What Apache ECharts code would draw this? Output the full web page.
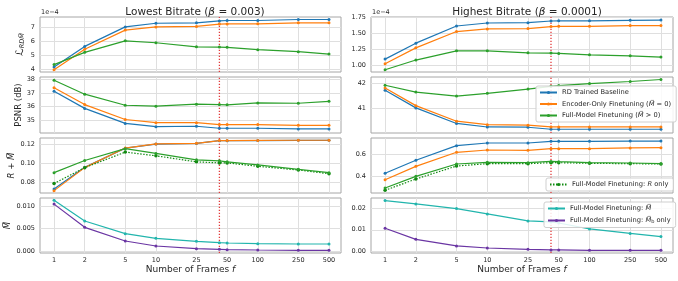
<!DOCTYPE html>
<html><head><meta charset="utf-8">
<script src="https://cdn.jsdelivr.net/npm/echarts@6/dist/echarts.min.js"></script>
<style>html,body{margin:0;padding:0;background:#fff}#c{width:678px;height:281px}</style>
</head><body><div id="c"></div>
<script>
// ---------- data ----------
const frames = [1, 2, 5, 10, 25, 42, 50, 100, 250, 500];
const frameTicks = [1, 2, 5, 10, 25, 50, 100, 250, 500];
const markerFrame = 42;

// Lowest bitrate (beta = 0.003)
const lowLossBaseline = [4.16, 5.64, 7.04, 7.30, 7.33, 7.47, 7.50, 7.50, 7.57, 7.57]; // x1e-4
const lowLossEncoder  = [3.97, 5.43, 6.81, 7.04, 7.07, 7.24, 7.25, 7.26, 7.33, 7.33];
const lowLossFull     = [4.33, 5.21, 6.04, 5.90, 5.61, 5.59, 5.57, 5.40, 5.26, 5.09];
const lowPsnrBaseline = [37.14, 35.87, 34.76, 34.52, 34.55, 34.40, 34.40, 34.40, 34.35, 34.35];
const lowPsnrEncoder  = [37.40, 36.15, 35.05, 34.81, 34.81, 34.67, 34.67, 34.67, 34.62, 34.62];
const lowPsnrFull     = [37.95, 36.92, 36.10, 36.03, 36.18, 36.15, 36.13, 36.27, 36.25, 36.39];
const lowRateBaseline = [0.0732, 0.0960, 0.1163, 0.1206, 0.1213, 0.1242, 0.1242, 0.1243, 0.1245, 0.1245];
const lowRateEncoder  = [0.0714, 0.0957, 0.1164, 0.1207, 0.1214, 0.1243, 0.1243, 0.1244, 0.1246, 0.1246];
const lowRateFull     = [0.0904, 0.1032, 0.1157, 0.1107, 0.1039, 0.1029, 0.1018, 0.0986, 0.0939, 0.0904];
const lowRateOnly     = [0.0789, 0.0957, 0.1121, 0.1082, 0.1018, 0.1007, 0.1007, 0.0971, 0.0932, 0.0893];
const lowModelFull    = [0.01134, 0.00672, 0.00388, 0.00284, 0.00216, 0.00187, 0.00179, 0.00164, 0.00157, 0.00157];
const lowModelBias    = [0.01050, 0.00530, 0.00224, 0.00112, 0.00052, 0.00037, 0.00030, 0.00022, 0.00015, 0.00015];

// Highest bitrate (beta = 0.0001)
const highLossBaseline = [1.094, 1.346, 1.618, 1.665, 1.671, 1.697, 1.700, 1.700, 1.707, 1.712]; // x1e-4
const highLossEncoder  = [1.020, 1.272, 1.530, 1.571, 1.577, 1.608, 1.613, 1.613, 1.624, 1.624];
const highLossFull     = [0.926, 1.079, 1.225, 1.225, 1.193, 1.189, 1.184, 1.162, 1.146, 1.126];
const highPsnrBaseline = [41.73, 41.03, 40.41, 40.27, 40.26, 40.18, 40.18, 40.18, 40.18, 40.18];
const highPsnrEncoder  = [41.82, 41.12, 40.50, 40.36, 40.34, 40.27, 40.27, 40.27, 40.27, 40.27];
const highPsnrFull     = [41.93, 41.66, 41.50, 41.61, 41.78, 41.89, 41.92, 42.00, 42.08, 42.16];
const highRateBaseline = [0.428, 0.548, 0.683, 0.708, 0.708, 0.723, 0.723, 0.723, 0.726, 0.726];
const highRateEncoder  = [0.369, 0.492, 0.622, 0.643, 0.640, 0.655, 0.655, 0.655, 0.662, 0.665];
const highRateFull     = [0.292, 0.400, 0.514, 0.529, 0.526, 0.538, 0.535, 0.526, 0.523, 0.517];
const highRateOnly     = [0.271, 0.375, 0.495, 0.517, 0.517, 0.526, 0.526, 0.520, 0.517, 0.514];
const highModelFull    = [0.0238, 0.0222, 0.0200, 0.0175, 0.0142, 0.0137, 0.0132, 0.0104, 0.0083, 0.0068];
const highModelBias    = [0.0107, 0.0055, 0.0024, 0.0014, 0.0008, 0.0005, 0.0005, 0.0003, 0.0003, 0.0003];

// tick labels per panel
const lowTicks  = [[4, 5, 6, 7], [35, 36, 37, 38], [0.08, 0.10, 0.12], [0.000, 0.005, 0.010]];
const highTicks = [[1.00, 1.25, 1.50, 1.75], [41, 42], [0.4, 0.6], [0.00, 0.01, 0.02]];
const lowRanges  = [[3.8, 7.75], [34.05, 38.19], [0.0689, 0.127], [-0.00045, 0.01187]];
const highRanges = [[0.89, 1.76], [40.03, 42.26], [0.246, 0.754], [-0.00095, 0.025]];
const lowDecimals  = [0, 0, 2, 3];
const highDecimals = [2, 0, 1, 2];

// ---------- names & styles ----------
const N_BASE = 'RD Trained Baseline';
const N_ENC = 'Encoder-Only Finetuning (M\u0305 = 0)';
const N_FULL = 'Full-Model Finetuning (M\u0305 > 0)';
const N_RONLY = 'Full-Model Finetuning: R only';
const N_MFULL = 'Full-Model Finetuning: M\u0305';
const N_MBIAS = 'Full-Model Finetuning: M\u0305b only';
const C = {base: '#1f77b4', enc: '#ff7f0e', full: '#2ca02c', ronly: '#118a11', mfull: '#22b5ad', mbias: '#6a35a3'};
const FONT = 'DejaVu Sans';
const TXT = '#262626';
const RED = '#e23b3b';

const rowTop = [17, 77, 138, 198];
const rowH = [55, 56, 55, 55];
const colLeft = [40, 371];
const colW = [301, 302];

const grids = [], xAxes = [], yAxes = [], series = [];

function addPanel(col, row, ticks, range, dec, yName, nameGap) {
  const idx = grids.length;
  grids.push({left: colLeft[col], top: rowTop[row], width: colW[col], height: rowH[row],
    show: true, borderColor: '#a6a6a6', borderWidth: 1, backgroundColor: '#fff'});
  xAxes.push({type: 'log', gridIndex: idx, min: 0.728, max: 656, logBase: 10,
    axisLine: {show: false},
    axisTick: {show: false, customValues: frameTicks},
    axisLabel: {show: row === 3, customValues: frameTicks, fontSize: 6.5, color: TXT, fontFamily: FONT, margin: 4,
      formatter: v => String(Math.round(v))},
    splitLine: {show: true, lineStyle: {color: '#dfdfdf', width: 1}},
    minorSplitLine: {show: false},
    name: row === 3 ? '{n|Number of Frames }{i|f}' : '', nameLocation: 'middle', nameGap: 12,
    nameTextStyle: {fontFamily: FONT, color: TXT, rich: {n: {fontSize: 9, fontFamily: FONT, color: TXT}, i: {fontSize: 9, fontStyle: 'italic', fontFamily: FONT, color: TXT}}}
  });
  yAxes.push({type: 'value', gridIndex: idx, min: range[0], max: range[1],
    axisLine: {show: false},
    axisTick: {show: false, customValues: ticks},
    axisLabel: {customValues: ticks, fontSize: 6.5, color: TXT, fontFamily: FONT, margin: 5,
      formatter: v => Number(v).toFixed(dec)},
    splitLine: {show: true, lineStyle: {color: '#dfdfdf', width: 1}},
    name: yName || '', nameLocation: 'middle', nameGap: nameGap || 15, nameRotate: 90,
    nameTextStyle: {fontSize: 8.5, color: TXT, fontFamily: FONT,
      rich: {n: {fontSize: 8.5, fontFamily: FONT, color: TXT},
             i: {fontSize: 8.5, fontStyle: 'italic', fontFamily: FONT, color: TXT},
             L: {fontSize: 10.5, fontFamily: FONT, color: TXT},
             sub: {fontSize: 6.5, fontStyle: 'italic', fontFamily: FONT, color: TXT, verticalAlign: 'bottom', padding: [4, 0, 0, 0]}}}
  });
  // vertical reference line at the marker frame count, spanning the panel's value range
  series.push({type: 'line', xAxisIndex: idx, yAxisIndex: idx, silent: true, z: 1,
    data: [[markerFrame, range[0]], [markerFrame, range[1]]],
    symbol: 'none', lineStyle: {color: RED, width: 1.3, type: [1.3, 1.7]}, emphasis: {disabled: true}, animation: false});
  return idx;
}

function line(name, vals, idx, color, opts) {
  opts = opts || {};
  series.push({
    type: 'line', name: name, xAxisIndex: idx, yAxisIndex: idx,
    data: frames.map((f, i) => [f, vals[i]]),
    symbol: 'circle', symbolSize: opts.size || 3, showSymbol: true,
    lineStyle: {color: color, width: 1.2, type: opts.dash || 'solid'},
    itemStyle: {color: color},
    emphasis: {disabled: true}, animation: false, z: 2
  });
}

const yNames = [
  '{L|\u2112}{sub|RDM\u0305}',
  '{n|PSNR (dB)}',
  '{i|R}{n| + }{i|M\u0305}',
  '{i|M\u0305}'
];
const yGaps = [14, 15, 21, 24];

const lowData = [
  [lowLossBaseline, lowLossEncoder, lowLossFull],
  [lowPsnrBaseline, lowPsnrEncoder, lowPsnrFull],
  [lowRateBaseline, lowRateEncoder, lowRateFull, lowRateOnly],
  [lowModelFull, lowModelBias]
];
const highData = [
  [highLossBaseline, highLossEncoder, highLossFull],
  [highPsnrBaseline, highPsnrEncoder, highPsnrFull],
  [highRateBaseline, highRateEncoder, highRateFull, highRateOnly],
  [highModelFull, highModelBias]
];

[[lowData, lowTicks, lowRanges, lowDecimals], [highData, highTicks, highRanges, highDecimals]].forEach((cfg, col) => {
  const [data, ticks, ranges, decs] = cfg;
  for (let r = 0; r < 4; r++) {
    const idx = addPanel(col, r, ticks[r], ranges[r], decs[r], col === 0 ? yNames[r] : '', yGaps[r]);
    const d = data[r];
    if (r < 3) {
      line(N_BASE, d[0], idx, C.base);
      line(N_ENC, d[1], idx, C.enc);
      if (r === 2) line(N_RONLY, d[3], idx, C.ronly, {dash: [1.5, 1.5], size: 3.5});
      line(N_FULL, d[2], idx, C.full);
    } else {
      line(N_MFULL, d[0], idx, C.mfull);
      line(N_MBIAS, d[1], idx, C.mbias);
    }
  }
});

const legendRich = {
  n: {fontSize: 6.7, fontFamily: FONT, color: TXT},
  i: {fontSize: 6.7, fontFamily: FONT, color: TXT, fontStyle: 'italic'},
  s: {fontSize: 5, fontFamily: FONT, color: TXT, verticalAlign: 'bottom', padding: [3, 0, 0, 0]}
};
function legendFmt(name) {
  if (name === N_ENC) return '{n|Encoder-Only Finetuning (}{i|M\u0305}{n| = 0)}';
  if (name === N_FULL) return '{n|Full-Model Finetuning (}{i|M\u0305}{n| > 0)}';
  if (name === N_RONLY) return '{n|Full-Model Finetuning: }{i|R}{n| only}';
  if (name === N_MFULL) return '{n|Full-Model Finetuning: }{i|M\u0305}';
  if (name === N_MBIAS) return '{n|Full-Model Finetuning: }{i|M\u0305}{s|b}{n| only}';
  return '{n|' + name + '}';
}
function legendBox(names, left, top, gap) {
  return {data: names, orient: 'vertical', left: left, top: top, itemWidth: 17, itemHeight: 4, itemGap: gap,
    padding: [3, 5, 3, 3], backgroundColor: 'rgba(255,255,255,0.85)', borderColor: '#cfcfcf', borderWidth: 1, borderRadius: 2,
    selectedMode: false, formatter: legendFmt, textStyle: {fontSize: 6.7, fontFamily: FONT, color: TXT, rich: legendRich}};
}

const titleRich = {n: {fontSize: 10.5, fontFamily: FONT, color: TXT, fontWeight: 'normal'},
                   i: {fontSize: 10.5, fontStyle: 'italic', fontFamily: FONT, color: TXT, fontWeight: 'normal'}};
const option = {
  backgroundColor: '#fff',
  animation: false,
  title: [
    {text: '{n|Lowest Bitrate (}{i|\u03b2}{n| = 0.003)}', left: 190, top: 2, textAlign: 'center',
      textStyle: {fontWeight: 'normal', rich: titleRich}},
    {text: '{n|Highest Bitrate (}{i|\u03b2}{n| = 0.0001)}', left: 522, top: 2, textAlign: 'center',
      textStyle: {fontWeight: 'normal', rich: titleRich}}
  ],
  graphic: [
    {type: 'text', left: 41, top: 9, style: {text: '1e\u22124', fontSize: 6.5, fontFamily: FONT, fill: TXT}},
    {type: 'text', left: 372, top: 9, style: {text: '1e\u22124', fontSize: 6.5, fontFamily: FONT, fill: TXT}}
  ],
  legend: [
    legendBox([N_BASE, N_ENC, N_FULL], 536, 86, 4.5),
    legendBox([N_RONLY], 546, 178, 3),
    legendBox([N_MFULL, N_MBIAS], 544, 202, 5)
  ],
  grid: grids, xAxis: xAxes, yAxis: yAxes, series: series
};
const chart = echarts.init(document.getElementById('c'), null, {renderer: 'canvas'});
chart.setOption(option);
</script></body></html>
